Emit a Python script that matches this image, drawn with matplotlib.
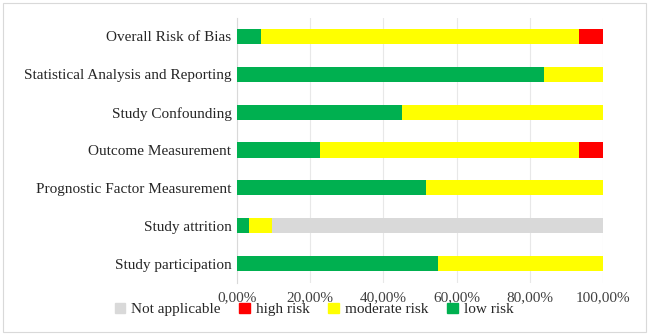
import numpy as np
import matplotlib
matplotlib.use("Agg")
import matplotlib.pyplot as plt
from matplotlib.patches import Patch, Rectangle

# domains, bottom to top as drawn
domains = ["Study participation", "Study attrition", "Prognostic Factor Measurement",
           "Outcome Measurement", "Study Confounding",
           "Statistical Analysis and Reporting", "Overall Risk of Bias"]

# shares in percent (31 studies)
low_risk = [54.84, 3.23, 51.61, 22.58, 45.16, 83.87, 6.45]
moderate_risk = [45.16, 6.45, 48.39, 70.97, 54.84, 16.13, 87.10]
high_risk = [0, 0, 0, 6.45, 0, 0, 6.45]
not_applicable = [0, 90.32, 0, 0, 0, 0, 0]

xticks = [0, 20, 40, 60, 80, 100]
xticklabels = ["0,00%", "20,00%", "40,00%", "60,00%", "80,00%", "100,00%"]

c_low = "#00B050"
c_mod = "#FFFF00"
c_high = "#FF0000"
c_na = "#D9D9D9"

plt.rcParams["font.family"] = ["Liberation Serif", "DejaVu Serif"]

W, H = 649, 335
fig = plt.figure(figsize=(W / 100, H / 100), dpi=100)
ax = fig.add_axes([237 / W, (H - 282.5) / H, (603 - 237) / W, (282.5 - 17.5) / H])

y = np.arange(len(domains))
low = np.array(low_risk)
mod = np.array(moderate_risk)
high = np.array(high_risk)
na = np.array(not_applicable)

h = 0.4
ax.barh(y, low, height=h, color=c_low, zorder=3)
ax.barh(y, mod, left=low, height=h, color=c_mod, zorder=3)
ax.barh(y, high, left=low + mod, height=h, color=c_high, zorder=3)
ax.barh(y, na, left=low + mod + high, height=h, color=c_na, zorder=3)

ax.set_xlim(0, 100)
ax.set_ylim(-0.5, len(domains) - 0.5)
ax.set_yticks(y)
ax.set_yticklabels(domains, fontsize=11, color="#262626")
ax.set_xticks(xticks)
ax.set_xticklabels(xticklabels, fontsize=11, color="#404040")
ax.tick_params(axis="both", length=0, pad=4)
ax.tick_params(axis="x", pad=6)
ax.grid(axis="x", color="#E8E8E8", linewidth=0.8, zorder=0)
for s in ["top", "right", "bottom"]:
    ax.spines[s].set_visible(False)
ax.spines["left"].set_color("#D9D9D9")
ax.spines["left"].set_linewidth(0.8)

handles = [Patch(color=c_na, label="Not applicable"),
           Patch(color=c_high, label="high risk"),
           Patch(color=c_mod, label="moderate risk"),
           Patch(color=c_low, label="low risk")]
fig.legend(handles=handles, loc="center", bbox_to_anchor=(314 / W, (H - 309.5) / H),
           ncol=4, frameon=False, fontsize=11, handlelength=0.7, handleheight=0.7,
           handletextpad=0.4, columnspacing=1.2, labelcolor="#262626")

# light chart border
fig.patches.append(Rectangle((3 / W, 3 / H), (W - 6) / W, (H - 6) / H,
                             transform=fig.transFigure, fill=False,
                             edgecolor="#D9D9D9", linewidth=0.8))

fig.savefig("out.png", dpi=100)
